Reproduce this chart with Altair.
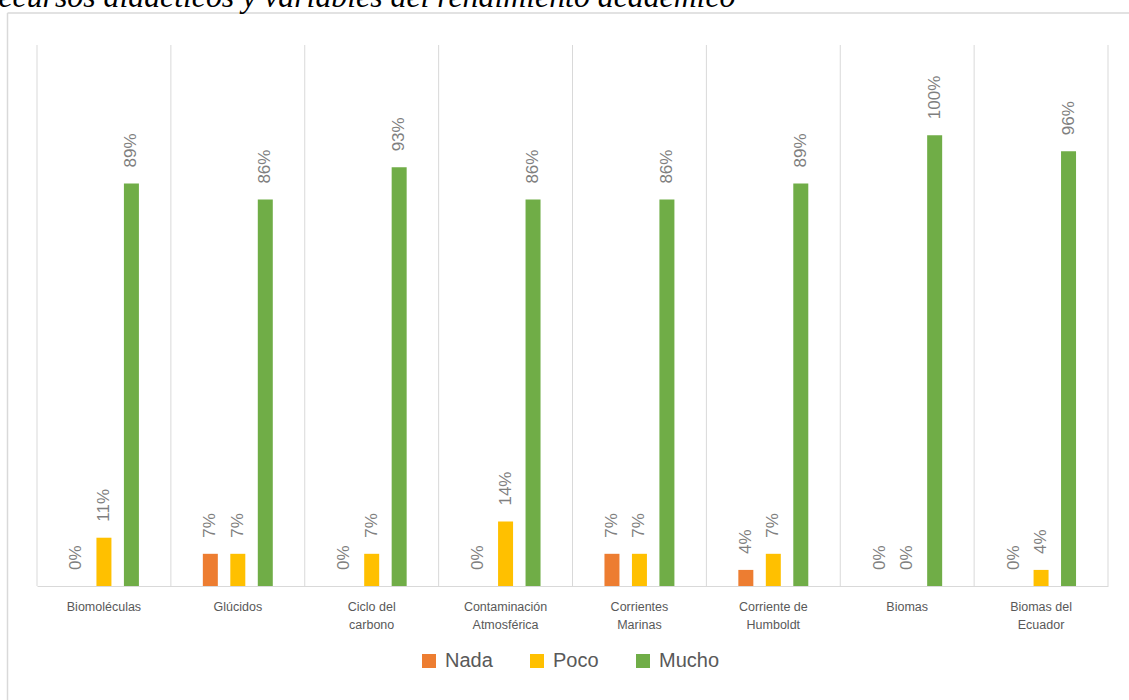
import altair as alt
import pandas as pd

title_text = "Recursos didácticos y variables del rendimiento académico"
categories = ["Biomoléculas", "Glúcidos", "Ciclo del carbono", "Contaminación Atmosférica",
              "Corrientes Marinas", "Corriente de Humboldt", "Biomas", "Biomas del Ecuador"]
series = ["Nada", "Poco", "Mucho"]
nada = [0.0, 0.0714, 0.0, 0.0, 0.0714, 0.0357, 0.0, 0.0]
poco = [0.1071, 0.0714, 0.0714, 0.1429, 0.0714, 0.0714, 0.0, 0.0357]
mucho = [0.8929, 0.8571, 0.9286, 0.8571, 0.8571, 0.8929, 1.0, 0.9643]
colors = ["#ED7D31", "#FFC000", "#70AD47"]

rows = []
for s, vals in zip(series, [nada, poco, mucho]):
    for c, v in zip(categories, vals):
        rows.append({"cat": c, "serie": s, "val": v})
df = pd.DataFrame(rows)
cat_df = pd.DataFrame({"cat": categories})

W, H = 1071, 541
GRID = "#D9D9D9"

xscale = alt.Scale(domain=categories, paddingInner=0, paddingOuter=0)
yscale = alt.Scale(domain=[0, 1.2])
offscale = alt.Scale(domain=series, paddingInner=0, paddingOuter=0.936)

label_expr = ("indexof(datum.value,' ')<0 ? datum.value : "
              "[slice(datum.value,0,lastindexof(datum.value,' ')), "
              "slice(datum.value,lastindexof(datum.value,' ')+1)]")

xaxis = alt.Axis(title=None, labelAngle=0, ticks=False, grid=False,
                 domainColor=GRID, domainWidth=1, labelColor="#595959",
                 labelFont="Liberation Sans", labelFontSize=12.5, labelPadding=14,
                 labelLineHeight=18, labelExpr=label_expr)

seps = alt.Chart(cat_df).mark_rule(color=GRID, strokeWidth=1).encode(
    x=alt.X("cat:N", scale=xscale, sort=categories, bandPosition=0, axis=xaxis),
    y=alt.value(0), y2=alt.value(H),
)
last_sep = alt.Chart(cat_df.head(1)).mark_rule(color=GRID, strokeWidth=1).encode(
    x=alt.value(W), y=alt.value(0), y2=alt.value(H),
)

bars = alt.Chart(df).mark_bar(width=15).encode(
    x=alt.X("cat:N", scale=xscale, sort=categories, axis=xaxis),
    xOffset=alt.XOffset("serie:N", sort=series, scale=offscale),
    y=alt.Y("val:Q", scale=yscale, axis=None),
    color=alt.Color("serie:N", sort=series,
                    scale=alt.Scale(domain=series, range=colors),
                    legend=alt.Legend(title=None, orient="none", direction="horizontal",
                                      legendX=382, legendY=606, symbolType="square",
                                      symbolSize=196, symbolStrokeWidth=0, labelFontSize=20,
                                      labelFont="Liberation Sans", labelColor="#595959",
                                      labelOffset=6, columnPadding=34, symbolOpacity=1)),
)

labels = alt.Chart(df).mark_text(angle=270, align="left", baseline="middle", dx=16,
                                 fontSize=17, font="Liberation Sans", color="#7F7F7F").encode(
    x=alt.X("cat:N", scale=xscale, sort=categories, axis=xaxis),
    xOffset=alt.XOffset("serie:N", sort=series, scale=offscale),
    y=alt.Y("val:Q", scale=yscale, axis=None),
    text=alt.Text("val:Q", format=".0%"),
)

title_df = pd.DataFrame({"t": [title_text]})
title = alt.Chart(title_df).mark_text(align="left", baseline="alphabetic", fontSize=31.8,
                                      font="Liberation Serif", fontStyle="italic",
                                      color="#000000").encode(
    x=alt.value(-58), y=alt.value(-38), text="t:N")

border_v = alt.Chart(title_df).mark_rule(color=GRID, strokeWidth=1.5).encode(
    x=alt.value(-29.5), y=alt.value(-32), y2=alt.value(700))
border_h = alt.Chart(title_df).mark_rule(color=GRID, strokeWidth=1.5).encode(
    x=alt.value(-29.5), x2=alt.value(1200), y=alt.value(-32))

chart = alt.layer(border_v, border_h, title, seps, last_sep, bars, labels).properties(
    width=W, height=H,
    autosize=alt.AutoSizeParams(type="none"),
    padding={"left": 37, "top": 45, "right": 21, "bottom": 114},
    background="white",
).configure_view(stroke=None)

chart.save("out.html", embed_options={"renderer": "svg", "actions": False})
